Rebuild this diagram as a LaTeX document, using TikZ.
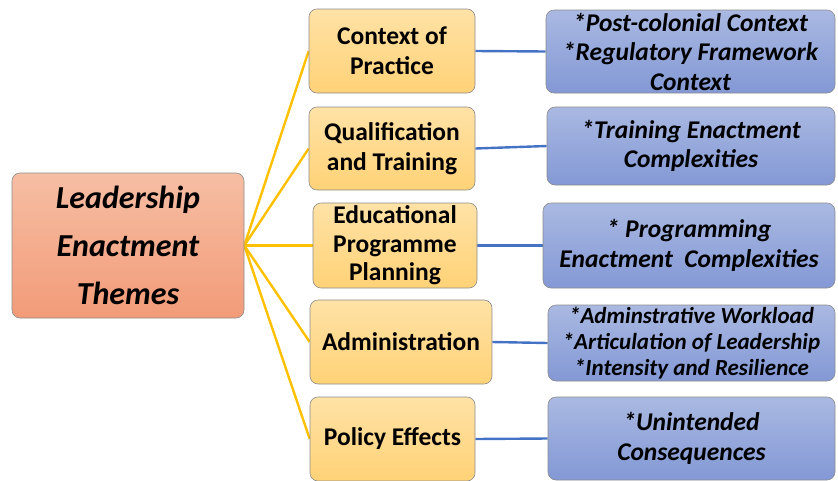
\documentclass[tikz,border=0pt]{standalone}
\usepackage{fontspec}
\usetikzlibrary{backgrounds}
\setmainfont{Carlito}
\begin{document}
\begin{tikzpicture}[x=1pt,y=-1pt,
  box/.style={draw=black!45, line width=0.6pt, rounded corners=8pt, align=center, inner sep=0pt},
  rootbox/.style={box, top color=rootTop, bottom color=rootBot},
  themebox/.style={box, top color=orTop, bottom color=orBot, font=\bfseries\fontsize{25.5}{30}\selectfont},
  subbox/.style={box, top color=blTop, bottom color=blBot, font=\bfseries\itshape\fontsize{25.5}{29.5}\selectfont},
  yline/.style={draw=yl, line width=2.4pt},
  bline/.style={draw=bl, line width=2.4pt}]
\definecolor{rootTop}{HTML}{F6BEA4}
\definecolor{rootBot}{HTML}{F29B78}
\definecolor{orTop}{HTML}{FFE2A6}
\definecolor{orBot}{HTML}{FFD277}
\definecolor{blTop}{HTML}{AAB9E2}
\definecolor{blBot}{HTML}{8398D5}
\definecolor{yl}{HTML}{FFC000}
\definecolor{bl}{HTML}{4472C4}
\useasboundingbox (0,0) rectangle (838,480);

\node[rootbox, minimum width=232pt, minimum height=145pt, font=\bfseries\itshape\fontsize{32}{48}\selectfont] (L) at (128,245.5) {Leadership\\Enactment\\Themes};

\node[themebox, minimum width=166pt, minimum height=84pt] (o1) at (392,51) {Context of\\Practice};
\node[themebox, minimum width=166pt, minimum height=83pt] (o2) at (392,148.5) {Qualification\\and Training};
\node[themebox, minimum width=164pt, minimum height=85pt, font=\bfseries\fontsize{25.5}{28.5}\selectfont] (o3) at (395,245.5) {Educational\\Programme\\Planning};
\node[themebox, minimum width=182pt, minimum height=84pt] (o4) at (401,342) {Administration};
\node[themebox, minimum width=165pt, minimum height=84pt] (o5) at (392.5,439) {Policy Effects};

\node[subbox, minimum width=289pt, minimum height=83pt] (b1) at (690.5,51.5) {*Post-colonial Context\\*Regulatory Framework\\Context};
\node[subbox, minimum width=288pt, minimum height=78pt] (b2) at (691,146) {*Training Enactment\\Complexities};
\node[subbox, minimum width=292pt, minimum height=85pt] (b3) at (689,245.5) {* Programming\\Enactment\ \ Complexities};
\node[subbox, minimum width=287pt, minimum height=76pt, font=\bfseries\itshape\fontsize{23}{26}\selectfont] (b4) at (691.5,343) {*Adminstrative Workload\\*Articulation of Leadership\\*Intensity and Resilience};
\node[subbox, minimum width=287pt, minimum height=83pt] (b5) at (691.5,438.5) {*Unintended\\Consequences};

\begin{scope}[on background layer]
\foreach \i in {1,...,5} {
  \draw[yline] (L.east) -- (o\i.west);
  \draw[bline] (o\i.east) -- (b\i.west);
}
\end{scope}
\end{tikzpicture}
\end{document}
